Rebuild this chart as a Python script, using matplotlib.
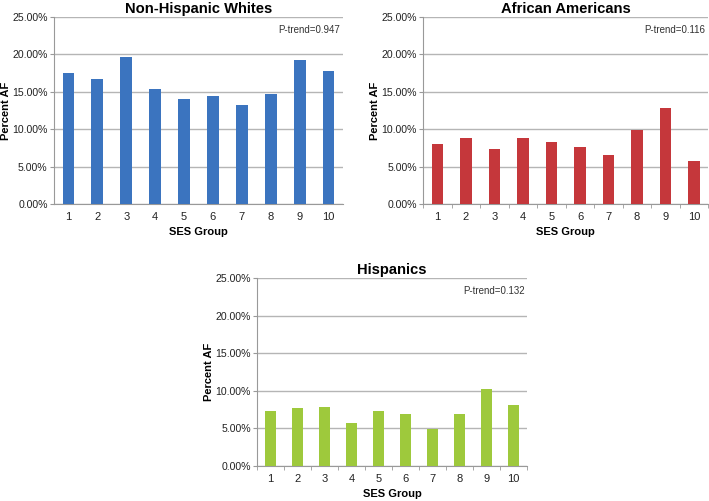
import matplotlib.pyplot as plt
from matplotlib.ticker import FuncFormatter

ses_groups = [1, 2, 3, 4, 5, 6, 7, 8, 9, 10]

whites = [17.5, 16.7, 19.6, 15.4, 14.0, 14.5, 13.2, 14.7, 19.2, 17.8]
african = [8.0, 8.85, 7.4, 8.85, 8.27, 7.65, 6.5, 9.92, 12.86, 5.78]
hispanics = [7.3, 7.65, 7.83, 5.7, 7.3, 6.9, 4.98, 6.9, 10.19, 8.05]

titles = ["Non-Hispanic Whites", "African Americans", "Hispanics"]
ptrends = ["P-trend=0.947", "P-trend=0.116", "P-trend=0.132"]
colors = ["#3B74BF", "#C5373B", "#9EC93C"]
yticks = [0, 5, 10, 15, 20, 25]

plt.rcParams['font.family'] = ['Liberation Sans', 'DejaVu Sans']

fig = plt.figure(figsize=(7.09, 5.01), dpi=100)
fig.patch.set_facecolor("white")

positions = [
    [0.076, 0.593, 0.408, 0.373],
    [0.597, 0.593, 0.402, 0.373],
    [0.3625, 0.070, 0.381, 0.375],
]
series = [whites, african, hispanics]


def pct(v, pos):
    return "%.2f%%" % v


for i in range(3):
    ax = fig.add_axes(positions[i])
    ax.bar(ses_groups, series[i], width=0.4, color=colors[i], zorder=3)
    ax.set_ylim(0, 25)
    ax.set_xlim(0.5, 10.5)
    ax.set_yticks(yticks)
    ax.yaxis.set_major_formatter(FuncFormatter(pct))
    ax.set_xticks(ses_groups)
    ax.tick_params(axis="x", length=0, labelsize=8, colors="#222222", pad=6)
    ax.tick_params(axis="y", length=3, color="#999999", labelsize=7.6,
                   labelcolor="#222222", pad=1.5)
    if i > 0:
        ax.set_xticks([x + 0.5 for x in range(0, 11)], minor=True)
        ax.tick_params(axis="x", which="minor", length=3, color="#999999")
    ax.grid(axis="y", color="#b5b5b5", linewidth=1, zorder=0)
    for s in ["top", "right"]:
        ax.spines[s].set_visible(False)
    ax.spines["left"].set_color("#999999")
    ax.spines["bottom"].set_color("#999999")
    ax.set_title(titles[i], fontsize=10.6, fontweight="bold", pad=3)
    ax.set_xlabel("SES Group", fontsize=8, fontweight="bold", labelpad=3.5)
    ax.set_ylabel("Percent AF", fontsize=8, fontweight="bold", labelpad=1)
    ax.text(0.99, 0.93, ptrends[i], transform=ax.transAxes, ha="right",
            va="center", fontsize=7, color="#333333")

fig.savefig("out.png", dpi=100)
